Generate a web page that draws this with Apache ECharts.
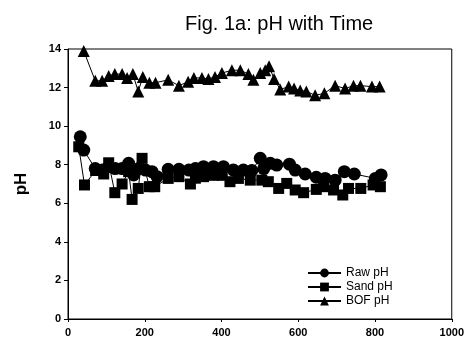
<!DOCTYPE html>
<html><head><meta charset="utf-8">
<script src="https://cdn.jsdelivr.net/npm/echarts@6/dist/echarts.min.js"></script>
<style>html,body{margin:0;padding:0;background:#fff}#c{width:467px;height:345px}</style>
</head><body><div id="c"></div>
<script>
var rawPH = [[32,9.45],[41,8.76],[71,7.8],[89,7.72],[106,7.9],[123,7.8],[141,7.8],[158,8.07],[171,7.47],[184,7.8],[202,7.72],[219,7.64],[232,7.38],[261,7.76],[289,7.76],[315,7.72],[332,7.8],[353,7.9],[379,7.9],[405,7.9],[431,7.72],[457,7.72],[479,7.7],[501,8.33],[510,7.8],[527,8.07],[544,7.98],[577,8.03],[592,7.72],[618,7.52],[647,7.35],[670,7.29],[696,7.2],[720,7.64],[746,7.52],[801,7.29],[816,7.47]];
var sandPH = [[28,8.93],[43,6.95],[72,7.7],[93,7.52],[106,8.1],[122,6.55],[141,7.0],[158,7.64],[167,6.2],[183,6.77],[193,8.33],[212,6.86],[226,6.86],[261,7.29],[289,7.38],[319,7.0],[332,7.3],[353,7.38],[379,7.45],[402,7.45],[422,7.12],[444,7.29],[475,7.2],[505,7.2],[522,7.12],[549,6.77],[570,7.03],[592,6.69],[614,6.55],[647,6.72],[666,6.86],[692,6.69],[716,6.43],[731,6.77],[763,6.77],[795,6.95],[814,6.86]];
var bofPH = [[41,13.9],[71,12.35],[89,12.35],[106,12.6],[122,12.7],[141,12.7],[154,12.5],[169,12.7],[183,11.8],[195,12.55],[212,12.25],[228,12.25],[261,12.4],[289,12.1],[313,12.3],[328,12.5],[349,12.5],[366,12.45],[383,12.55],[401,12.75],[427,12.9],[449,12.9],[470,12.7],[483,12.4],[501,12.75],[514,12.9],[524,13.1],[537,12.45],[553,11.9],[575,12.05],[589,11.95],[605,11.85],[621,11.8],[644,11.6],[668,11.7],[696,12.1],[722,11.95],[744,12.1],[762,12.1],[792,12.05],[812,12.05]];
var seriesNames = ['Raw pH','Sand pH','BOF pH'];
var chart = echarts.init(document.getElementById('c'));
var font = 'Liberation Sans, Arial, sans-serif';
function ser(name, data, symbol, size){
  return {name:name,type:'line',data:data,symbol:symbol,symbolSize:size,
    lineStyle:{color:'#000',width:1},itemStyle:{color:'#000'},animation:false};
}
chart.setOption({
  animation:false,
  title:{text:'Fig. 1a: pH with Time',left:180,top:9,textStyle:{fontFamily:font,fontSize:20,fontWeight:'normal',color:'#000'}},
  grid:{left:68,right:15,top:49,bottom:26,show:true,borderColor:'#000',borderWidth:1},
  legend:{orient:'vertical',left:302,top:262,itemWidth:33,itemHeight:11,itemGap:2,
    textStyle:{fontFamily:font,fontSize:12,color:'#000'},data:seriesNames},
  xAxis:{type:'value',min:0,max:1000,interval:200,
    axisLine:{show:true,lineStyle:{color:'#000',width:1}},
    axisTick:{show:true,length:3,lineStyle:{color:'#000'}},
    splitLine:{show:false},
    axisLabel:{fontFamily:font,fontSize:11,fontWeight:'bold',color:'#000',margin:8,formatter:function(v){return String(v);}}},
  yAxis:{type:'value',min:0,max:14,interval:2,name:'pH',nameLocation:'middle',nameGap:38,
    nameTextStyle:{fontFamily:font,fontSize:17,fontWeight:'bold',color:'#000'},
    axisLine:{show:true,lineStyle:{color:'#000',width:1}},
    axisTick:{show:true,length:4,lineStyle:{color:'#000'}},
    splitLine:{show:false},
    axisLabel:{fontFamily:font,fontSize:11,fontWeight:'bold',color:'#000',margin:7}},
  series:[ser(seriesNames[0],rawPH,'circle',13),ser(seriesNames[1],sandPH,'rect',11),ser(seriesNames[2],bofPH,'triangle',12)]
});
</script></body></html>
